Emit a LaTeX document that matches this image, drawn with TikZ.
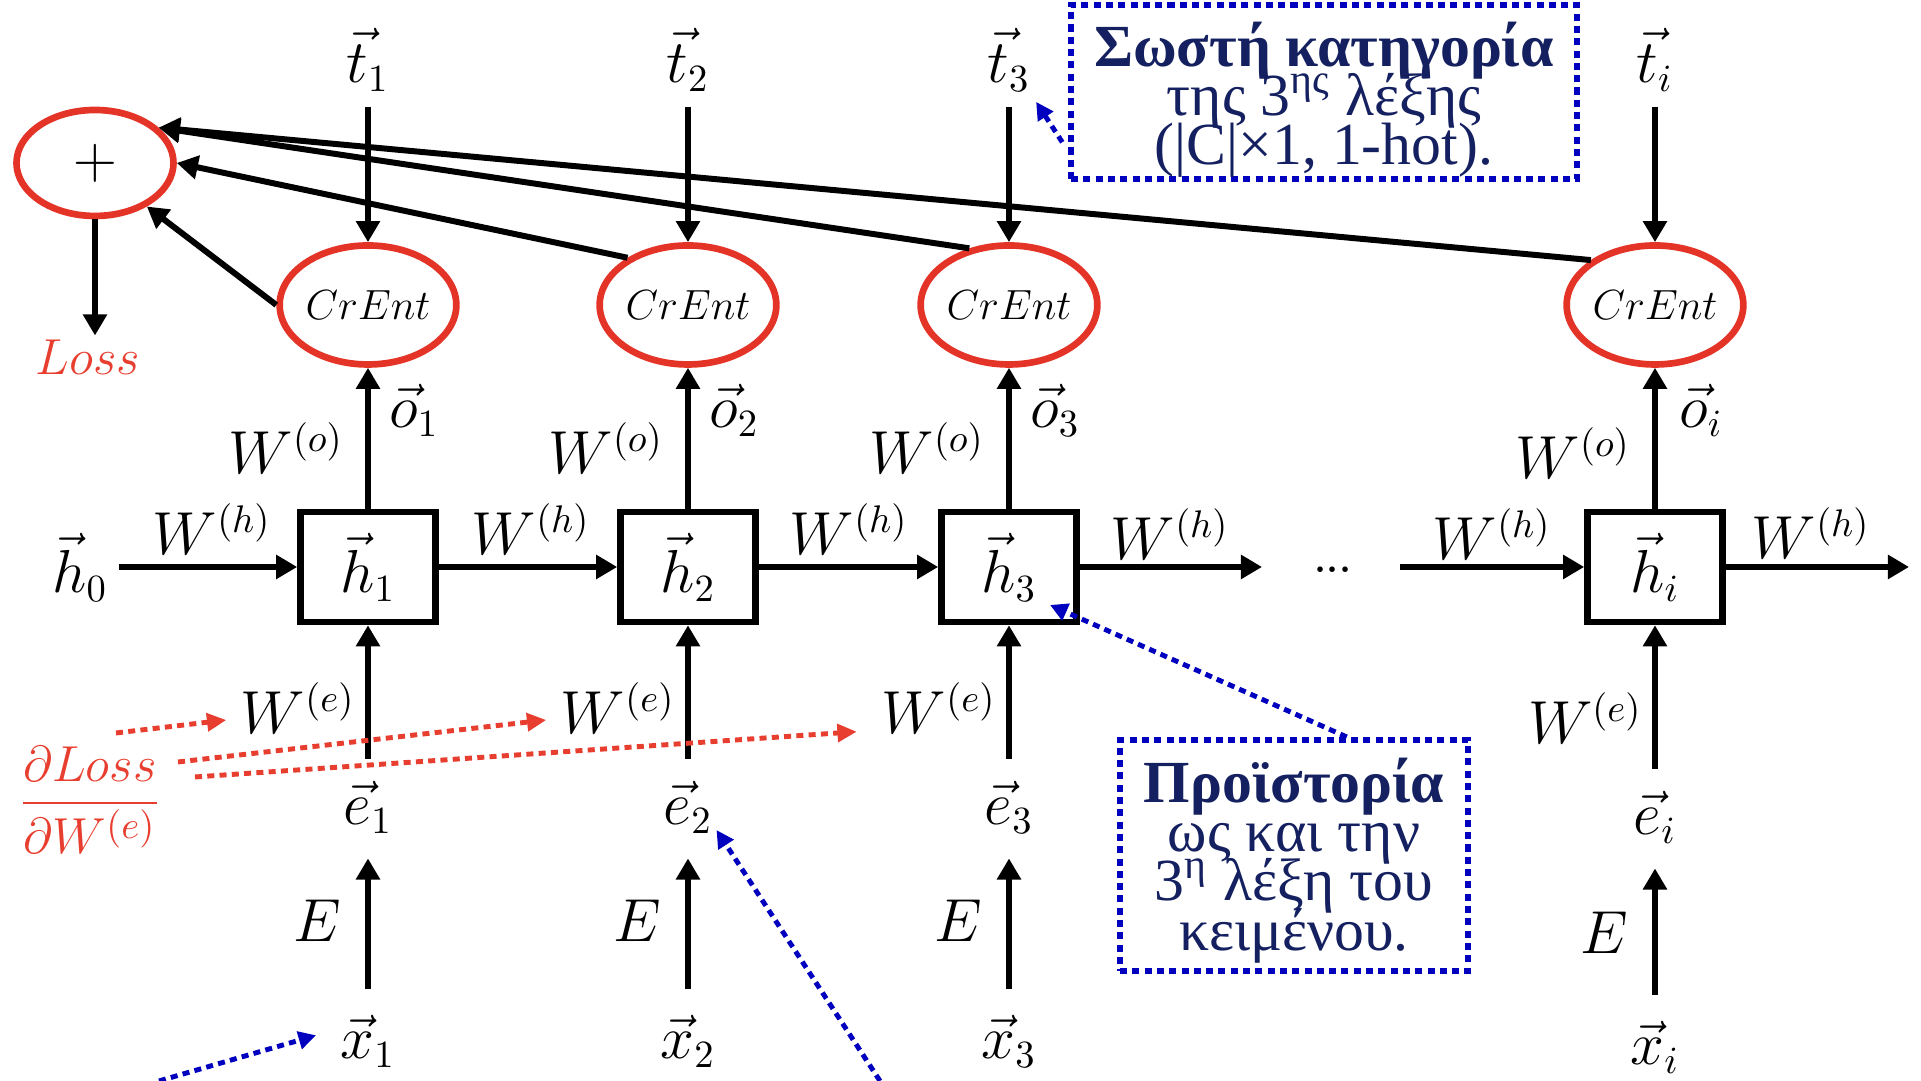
\documentclass[tikz,border=0pt]{standalone}
\usepackage{amsmath}
\usepackage{fontspec}
\usetikzlibrary{arrows.meta,shapes.geometric}
\IfFontExistsTF{LiberationSerif-Regular.ttf}
  {\newfontfamily\grfont{LiberationSerif}[Extension=.ttf,UprightFont=*-Regular,BoldFont=*-Bold]}
  {\newfontfamily\grfont{DejaVu Serif}}
\definecolor{crentred}{RGB}{228,52,40}
\definecolor{gradred}{RGB}{232,62,48}
\definecolor{notenavy}{RGB}{20,32,96}
\definecolor{noteblue}{RGB}{0,0,190}

\begin{document}
\begin{tikzpicture}[x=1cm,y=1cm,>={Triangle[length=6pt,width=6.6pt]}]
\tikzset{lab/.style={font=\fontsize{16}{19}\selectfont,inner sep=1pt},
  crent/.style={ellipse,draw=crentred,line width=1.9pt,minimum width=1.68cm,minimum height=1.19cm,inner sep=0pt,font=\fontsize{12.5}{14}\selectfont},
  hbox/.style={draw,line width=1.9pt,minimum width=1.35cm,minimum height=1.10cm,inner sep=0pt,font=\fontsize{16}{19}\selectfont},
  flow/.style={->,line width=1.7pt},
  grad/.style={-{Triangle[length=5.5pt,width=5pt]},gradred,line width=1.4pt,dash pattern=on 2pt off 1.5pt},
  pointer/.style={-{Triangle[length=5pt,width=5pt]},noteblue,line width=1.4pt,dash pattern=on 2pt off 1.5pt},
  note/.style={draw=noteblue,line width=1.7pt,dash pattern=on 2pt off 1.5pt,text=notenavy,align=center,inner sep=0pt,font=\grfont\fontsize{17}{14}\selectfont,execute at begin node=\setlength{\lineskiplimit}{-20pt}}}
\useasboundingbox (0,0) rectangle (19.21,10.81);

% loss
\node[ellipse,draw=crentred,line width=1.9pt,minimum width=1.57cm,minimum height=1.06cm,inner sep=0pt,font=\fontsize{19}{21}\selectfont] (plus) at (0.95,9.18) {$+$};
\node[lab,text=gradred,font=\fontsize{15}{17}\selectfont] (loss) at (0.88,7.24) {$Loss$};
\draw[flow] (plus.south) -- (plus.south |- loss.north);

% time steps
\foreach \n/\c/\s/\d in {1/3.68/1/0,2/6.88/2/0,3/10.09/3/0,I/16.55/i/1} {
  \node[lab] (t\n) at (\c,10.21) {$\vec{t}_{\s}$};
  \node[crent] (ce\n) at (\c,7.76) {$CrEnt$};
  \node[hbox] (h\n) at (\c,5.14) {$\vec{h}_{\s}$};
  \node[lab] (wo\n) at (\c-0.82,6.33-\d*0.05) {$W^{(o)}$};
  \node[lab] (o\n) at (\c+0.46,6.71) {$\vec{o}_{\s}$};
  \node[lab] (we\n) at (\c-0.70,3.73-\d*0.1) {$W^{(e)}$};
  \node[lab] (e\n) at (\c,2.74-\d*0.1) {$\vec{e}_{\s}$};
  \node[lab] (E\n) at (\c-0.51,1.60-\d*0.12) {$E$};
  \node[lab] (x\n) at (\c,0.40-\d*0.06) {$\vec{x}_{\s}$};
  \draw[flow,shorten <=3pt] (t\n) -- (ce\n);
  \draw[flow] (h\n) -- (ce\n);
  \draw[flow,shorten <=5pt] (e\n) -- (h\n);
  \draw[flow,shorten <=6pt,shorten >=6pt] (x\n) -- (e\n);
}
\draw[flow] (ce1.west) -- (plus.-40);
\draw[flow] (ce2.142) -- (plus.east);
\draw[flow] (ce3.125) -- (plus.29);
\draw[flow] (ceI.145) -- (plus.29);

% recurrence
\node[lab] (h0) at (0.80,5.14) {$\vec{h}_0$};
\node[font=\fontsize{11}{13}\selectfont\bfseries] (dots) at (13.33,5.11) {...};
\coordinate (h3out) at (12.62,5.14);
\coordinate (hIin) at (14.00,5.14);
\coordinate (hIout) at (19.09,5.14);
\draw[flow,shorten <=2pt] (h0) -- (h1);
\draw[flow] (h1) -- (h2);
\draw[flow] (h2) -- (h3);
\draw[flow] (h3) -- (h3out);
\draw[flow] (hIin) -- (hI);
\draw[flow] (hI) -- (hIout);
\foreach \n/\xx/\yy in {a/2.12/5.52,b/5.31/5.52,c/8.49/5.52,d/11.70/5.47,f/14.92/5.47,g/18.11/5.48}
  \node[lab] (wh\n) at (\xx,\yy) {$W^{(h)}$};

% gradient
\node[text=gradred,font=\fontsize{15.5}{18}\selectfont,inner sep=1pt] (dloss) at (0.90,2.81) {$\dfrac{\partial Loss}{\partial W^{(e)}}$};
\coordinate (g1) at (1.16,3.48);
\coordinate (g2) at (1.78,3.19);
\coordinate (g3) at (1.95,3.04);
\draw[grad,shorten >=3pt] (g1) -- (we1.190);
\draw[grad,shorten >=3pt] (g2) -- (we2.190);
\draw[grad,shorten >=6pt] (g3) -- (we3.200);

% notes
\node[note,minimum width=5.06cm,minimum height=1.74cm] (cat) at (13.24,9.89) {\rule{0pt}{17pt}\textbf{Σωστή κατηγορία}\\της 3\textsuperscript{ης} λέξης\\(|C|×1, 1-hot).};
\node[note,minimum width=3.48cm,minimum height=2.31cm] (hist) at (12.94,2.255) {\rule{0pt}{15.5pt}\textbf{Προϊστορία}\\ως και την\\3\textsuperscript{η} λέξη του\\κειμένου.};
\coordinate (h3tip) at (10.50,4.76);
\coordinate (bx) at (1.59,0);
\coordinate (be) at (8.80,0);
\draw[pointer,shorten <=3pt,shorten >=2pt] (cat.193) -- (t3);
\draw[pointer] (hist.66) -- (h3tip);
\draw[pointer,shorten >=6pt] (bx) -- (x1.160);
\draw[pointer] (be) -- (e2.-39);
\end{tikzpicture}
\end{document}
